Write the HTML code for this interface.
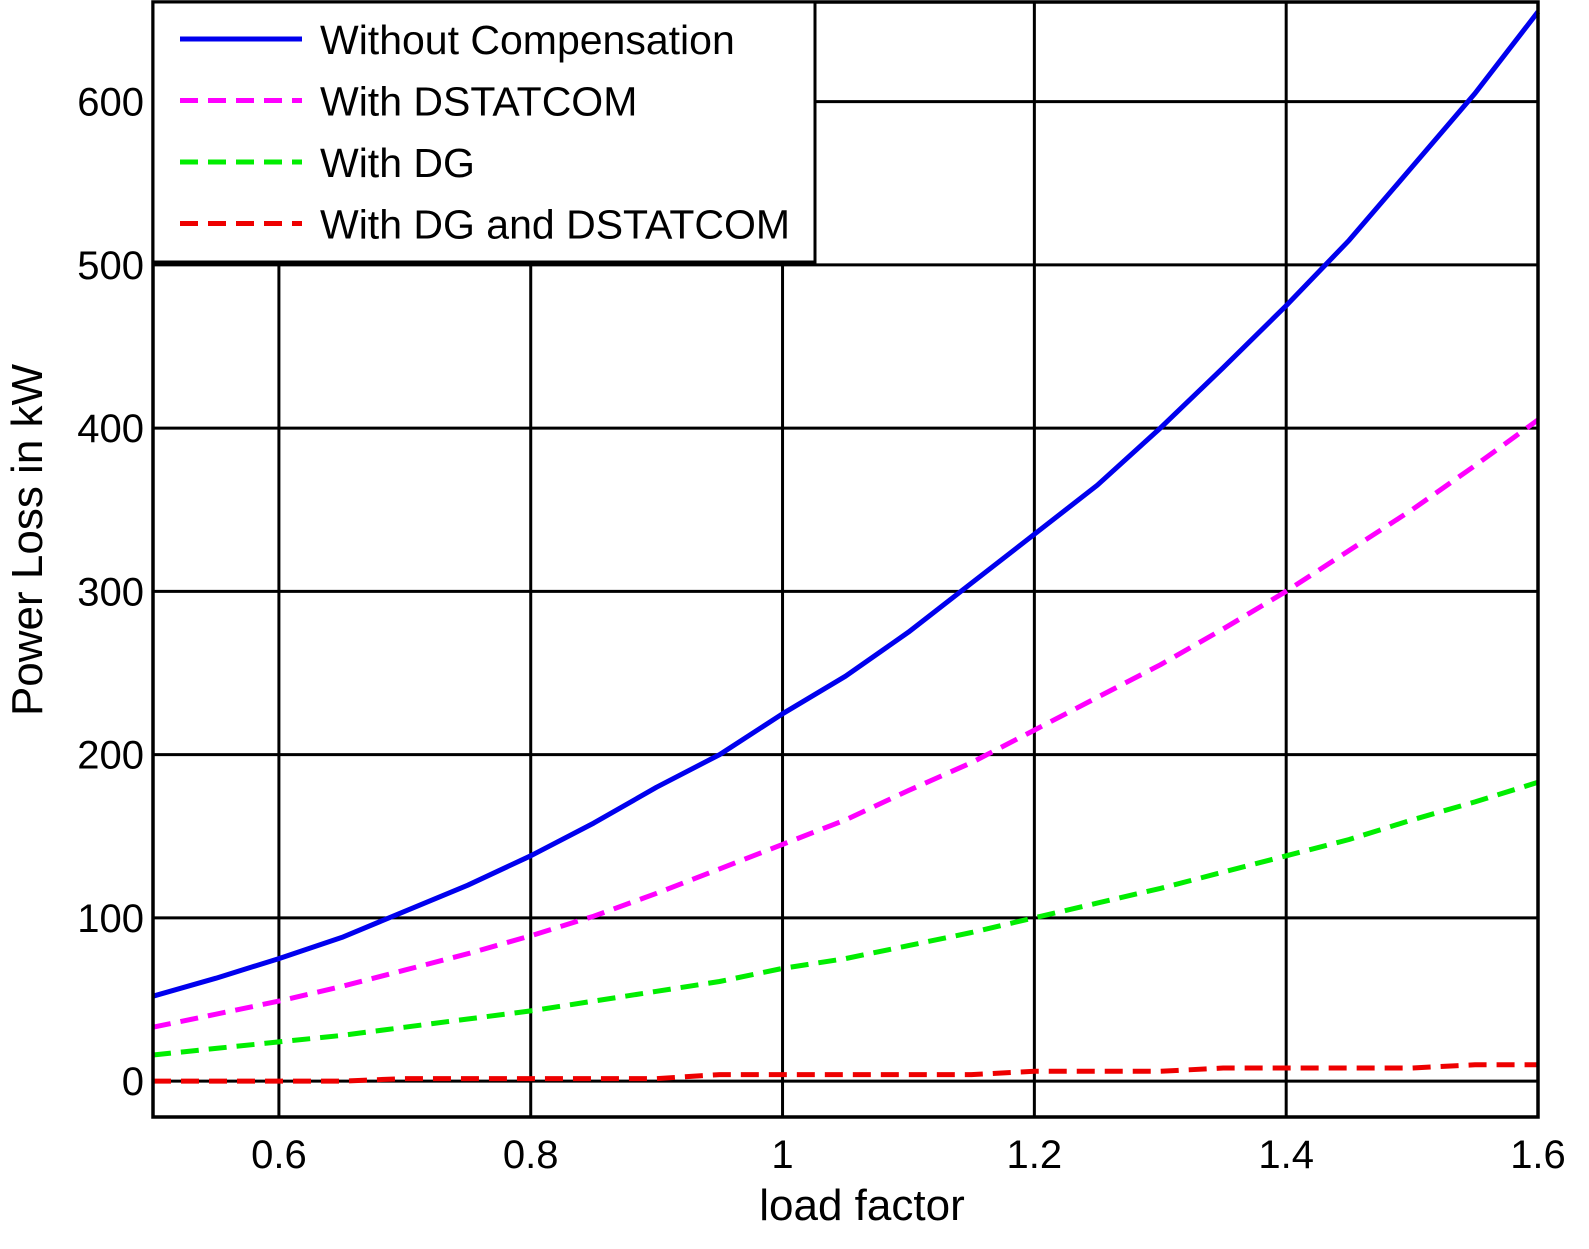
<!DOCTYPE html>
<html><head><meta charset="utf-8"><style>
html,body{margin:0;padding:0;background:#fff;}
svg{display:block;font-family:"Liberation Sans",Arial,sans-serif;}
</style></head><body>
<svg id="chart" width="1589" height="1249" viewBox="0 0 1589 1249">
<g id="grid"></g>
<g id="series"></g>
<g id="axes"></g>
<g id="legend"></g>
<text x="862" y="1220" font-size="44" text-anchor="middle">load factor</text>
<text transform="translate(42,540) rotate(-90)" font-size="44" text-anchor="middle">Power Loss in kW</text>
</svg>
<script>
const xVals = [0.5,0.55,0.6,0.65,0.7,0.75,0.8,0.85,0.9,0.95,1.0,1.05,1.1,1.15,1.2,1.25,1.3,1.35,1.4,1.45,1.5,1.55,1.6];
const withoutComp = [52,63,75,88,104,120,138,158,180,200,225,248,275,305,335,365,400,437,475,515,560,605,655];
const withDstatcom = [33,41,49,58,68,78,89,101,115,130,145,160,178,195,215,235,255,277,300,325,350,377,405];
const withDg = [16,20,24,28,33,38,43,49,55,61,69,75,83,91,100,109,118,128,138,148,160,171,183];
const withDgDstatcom = [0,0,0,0,1.5,1.5,1.5,1.5,1.5,4,4,4,4,4,6,6,6,8,8,8,8,10,10];
const xTicks = [0.6,0.8,1,1.2,1.4,1.6];
const xTickLabels = ["0.6","0.8","1","1.2","1.4","1.6"];
const yTicks = [0,100,200,300,400,500,600];
const yTickLabels = ["0","100","200","300","400","500","600"];
const seriesNames = ["Without Compensation","With DSTATCOM","With DG","With DG and DSTATCOM"];

const NS="http://www.w3.org/2000/svg";
const X0=153,X1=1538,Y0=1117,Y1=2;
const xMin=0.5,xMax=1.6,yMin=-22,yMax=661;
const sx=v=>X0+(v-xMin)/(xMax-xMin)*(X1-X0);
const sy=v=>Y0-(v-yMin)/(yMax-yMin)*(Y0-Y1);
function mk(tag,attrs,parent){const e=document.createElementNS(NS,tag);for(const k in attrs)e.setAttribute(k,attrs[k]);parent.appendChild(e);return e;}
const grid=document.getElementById('grid'),axes=document.getElementById('axes'),ser=document.getElementById('series'),leg=document.getElementById('legend');
xTicks.forEach((t,i)=>{
  const l=mk('line',{x1:sx(t),x2:sx(t),y1:Y1,y2:Y0,stroke:'#000','stroke-width':3},grid);
  
  
  const tx=mk('text',{x:sx(t),y:1168,'font-size':40,'text-anchor':'middle'},axes);
  tx.textContent=xTickLabels[i];
  
  
});
yTicks.forEach((t,i)=>{
  const l=mk('line',{x1:X0,x2:X1,y1:sy(t),y2:sy(t),stroke:'#000','stroke-width':3},grid);
  
  
  const tx=mk('text',{x:144,y:sy(t)+14,'font-size':40,'text-anchor':'end'},axes);
  tx.textContent=yTickLabels[i];
  
  
});
const frame=mk('rect',{x:X0,y:Y1,width:X1-X0,height:Y0-Y1,fill:'none',stroke:'#000','stroke-width':3.5},axes);


const defs=[[withoutComp,'#0000ee',null,'series-without-compensation'],[withDstatcom,'#ff00ff','18 10','series-with-dstatcom'],[withDg,'#00ee00','18 10','series-with-dg'],[withDgDstatcom,'#ee0000','18 10','series-with-dg-and-dstatcom']];
defs.forEach(([data,col,dash,name],si)=>{
  const pts=data.map((v,i)=>sx(xVals[i]).toFixed(1)+','+sy(v).toFixed(1)).join(' ');
  const a={points:pts,fill:'none',stroke:col,'stroke-width':5,'stroke-linejoin':'round'};
  if(dash)a['stroke-dasharray']=dash;
  const p=mk('polyline',a,ser);
  
  
});
const lb=mk('rect',{x:X0,y:Y1,width:662,height:260,fill:'#fff',stroke:'#000','stroke-width':3},leg);


defs.forEach(([d,col,dash],i)=>{
  const y=39+i*61.5;
  const a={x1:180,x2:302,y1:y,y2:y,stroke:col,'stroke-width':5};
  if(dash)a['stroke-dasharray']=dash;
  const l=mk('line',a,leg);
  
  
  const t=mk('text',{x:320,y:y+15,'font-size':41},leg);
  t.textContent=seriesNames[i];
  
  
});
</script>
</body></html>
